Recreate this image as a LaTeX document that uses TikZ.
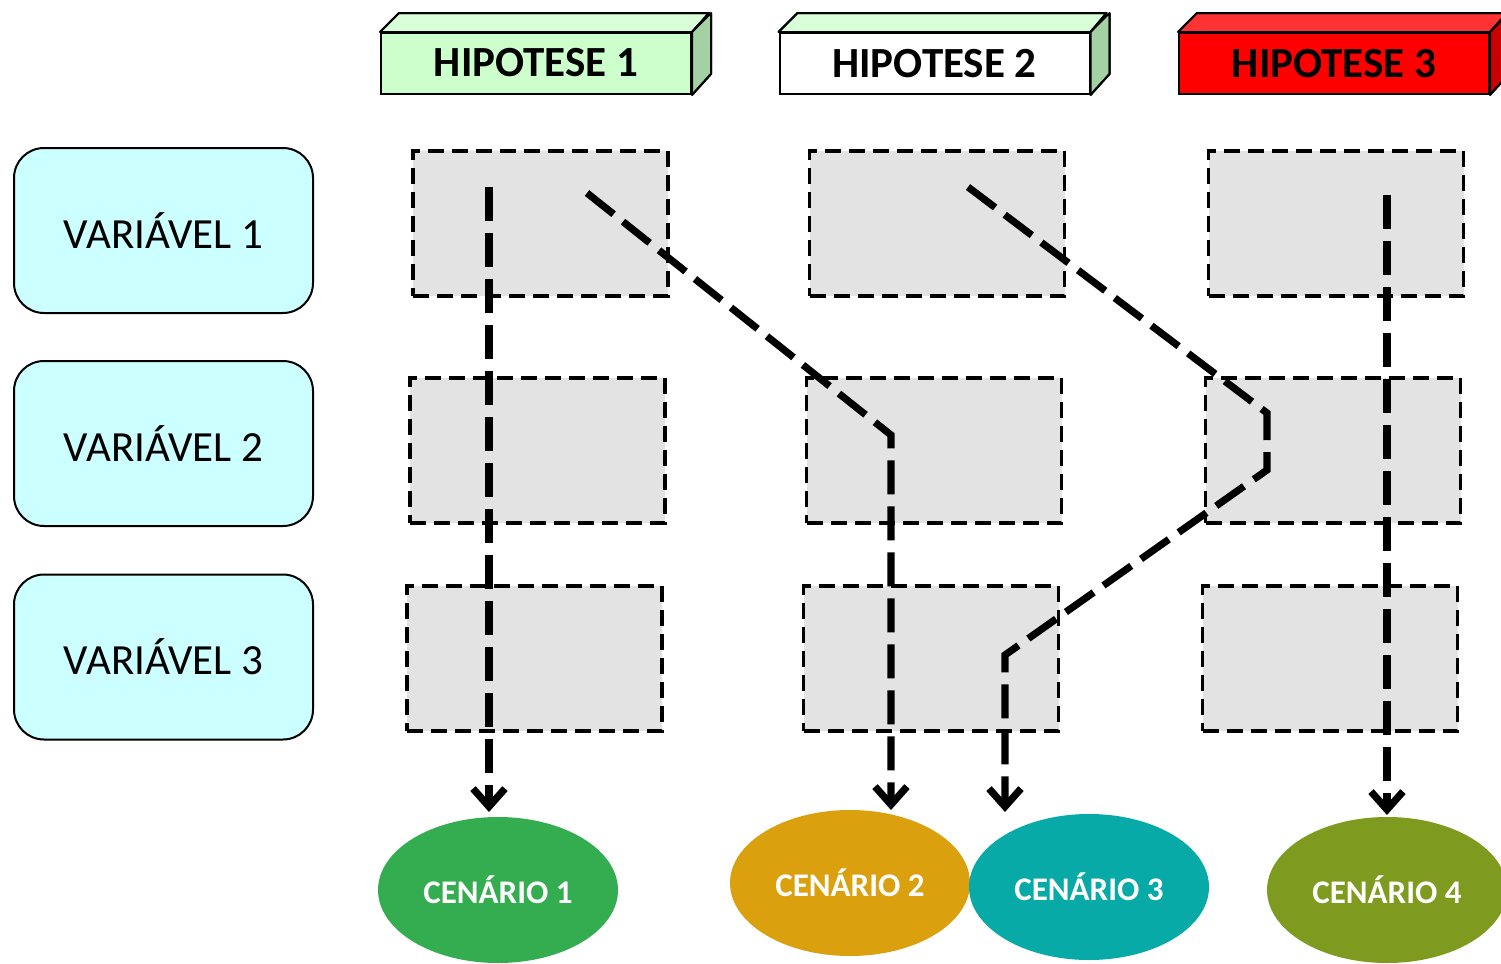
\documentclass[tikz,border=0pt]{standalone}
\usepackage{fontspec}
\setmainfont{Carlito}
\usetikzlibrary{arrows.meta,shapes.geometric}
\definecolor{hfront}{HTML}{CCFFCC}
\definecolor{htop}{HTML}{D9FFD9}
\definecolor{hside}{HTML}{A3D1A3}
\definecolor{rfront}{HTML}{FF0000}
\definecolor{rtop}{HTML}{FF3333}
\definecolor{rside}{HTML}{CC0000}
\definecolor{varcyan}{HTML}{CCFFFF}
\definecolor{cgreen}{HTML}{33AD50}
\definecolor{corange}{HTML}{DAA00E}
\definecolor{cteal}{HTML}{07AAA6}
\definecolor{colive}{HTML}{7E9B20}
\begin{document}
\begin{tikzpicture}[x=0.5pt,y=-0.5pt,
  hyp/.style={draw=black, line width=1pt, minimum width=155pt, minimum height=30.5pt, inner sep=0pt, font=\fontsize{21.5}{22}\selectfont\bfseries},
  varbox/.style={draw=black, line width=1pt, rounded corners=15pt, fill=varcyan, minimum width=149.5pt, minimum height=82.5pt, inner sep=0pt, font=\fontsize{21.5}{22}\selectfont},
  cell/.style={draw=black, dash pattern=on 8pt off 4pt, line width=1.7pt, fill=gray!22, minimum width=127.5pt, minimum height=72.5pt, inner sep=0pt},
  scen/.style={ellipse, minimum width=120pt, minimum height=73pt, inner sep=0pt, text=white, font=\fontsize{16.5}{17}\selectfont\bfseries},
  route/.style={line width=3.6pt, dash pattern=on 17pt off 6pt, -{Straight Barb[length=9pt,width=16pt]}},
  face/.style={draw=black, line width=1pt, line join=round}
]
\useasboundingbox (0,0) rectangle (1501,964);

% hypotheses
\node[hyp, fill=hfront] (h1) at (536,63.5) {\raisebox{1pt}{HIPOTESE 1}};
\fill[face, fill=htop] (h1.north west) -- ++(19,-19) -- ++(310,0) -- (h1.north east) -- cycle;
\fill[face, fill=hside] (h1.north east) -- ++(19,-19) -- ++(0,61) -- (h1.south east) -- cycle;
\draw[face] (h1.north west) -- ++(19,-19) -- ++(310,0) -- (h1.north east);
\draw[face] (h1.north east) ++(19,-19) -- ++(0,61) -- (h1.south east);

\node[hyp, fill=white] (h2) at (934.5,63.5) {\raisebox{-1pt}{HIPOTESE 2}};
\fill[face, fill=htop] (h2.north west) -- ++(19,-19) -- ++(309,0) -- (h2.north east) -- cycle;
\fill[face, fill=hside] (h2.north east) -- ++(19,-19) -- ++(0,61) -- (h2.south east) -- cycle;
\draw[face] (h2.north west) -- ++(19,-19) -- ++(309,0) -- (h2.north east);
\draw[face] (h2.north east) ++(19,-19) -- ++(0,61) -- (h2.south east);

\node[hyp, fill=rfront] (h3) at (1334,63.5) {\raisebox{-1pt}{HIPOTESE 3}};
\fill[face, fill=rtop] (h3.north west) -- ++(19,-19) -- ++(310,0) -- (h3.north east) -- cycle;
\fill[face, fill=rside] (h3.north east) -- ++(19,-19) -- ++(0,61) -- (h3.south east) -- cycle;
\draw[face] (h3.north west) -- ++(19,-19) -- ++(310,0) -- (h3.north east);
\draw[face] (h3.north east) ++(19,-19) -- ++(0,61) -- (h3.south east);

% variables
\node[varbox] (v1) at (163.5,230.5) {VARIÁVEL 1};
\node[varbox] (v2) at (163.5,443.5) {VARIÁVEL 2};
\node[varbox] (v3) at (163.5,657) {VARIÁVEL 3};

% cells
\node[cell] (c11) at (540.5,223.5) {};
\node[cell] (c21) at (537.5,450.5) {};
\node[cell] (c31) at (534.5,658.5) {};
\node[cell] (c12) at (937,223.5) {};
\node[cell] (c22) at (934,450.5) {};
\node[cell] (c32) at (931,658.5) {};
\node[cell] (c13) at (1336,223.5) {};
\node[cell] (c23) at (1333,450.5) {};
\node[cell] (c33) at (1330,658.5) {};

% scenarios
\node[scen, fill=cgreen] (s1) at (498,890) {CENÁRIO 1};
\node[scen, fill=corange] (s2) at (850,883) {CENÁRIO 2};
\node[scen, fill=cteal] (s3) at (1089,887) {CENÁRIO 3};
\node[scen, fill=colive] (s4) at (1387,890) {CENÁRIO 4};

% routes
\coordinate (a1) at (489,187);
\coordinate (a2) at (489,812);
\draw[route] (a1) -- (a2);

\coordinate (b1) at (587,193);
\coordinate (b2) at (891,435);
\coordinate (b3) at (891,810);
\draw[route] (b1) -- (b2) -- (b3);

\coordinate (d1) at (968,187);
\coordinate (d2) at (1267,413);
\coordinate (d3) at (1267,470);
\coordinate (d4) at (1005,655);
\coordinate (d5) at (1005,812);
\draw[route] (d1) -- (d2) -- (d3) -- (d4) -- (d5);

\coordinate (e1) at (1387,195);
\coordinate (e2) at (1387,815);
\draw[route] (e1) -- (e2);
\end{tikzpicture}
\end{document}
